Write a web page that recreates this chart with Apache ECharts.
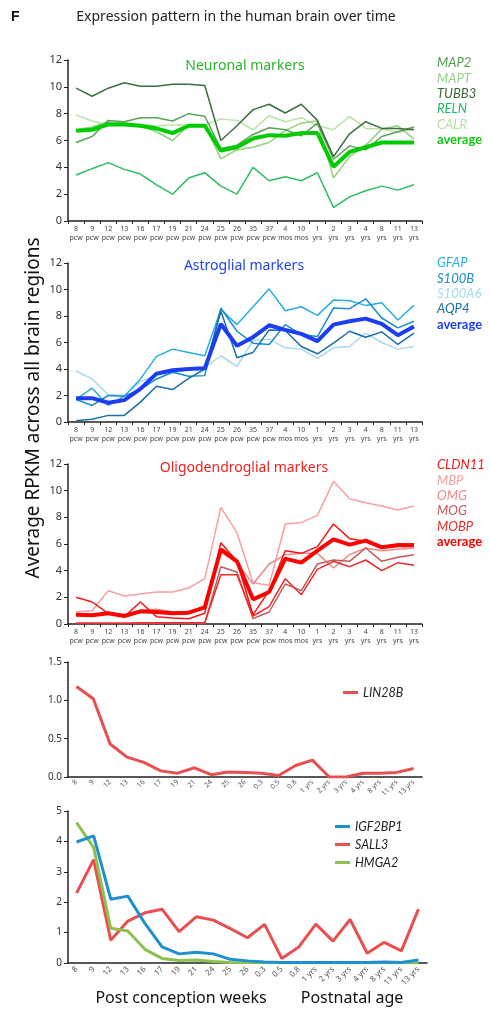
<!DOCTYPE html>
<html><head><meta charset="utf-8">
<script src="https://cdn.jsdelivr.net/npm/echarts@6/dist/echarts.min.js"></script>
<style>html,body{margin:0;padding:0;background:#fff}#c{width:490px;height:1015px}</style>
</head><body><div id="c"></div>
<script>
// ---------- categories ----------
const agesTop = ['8','9','12','13','16','17','19','21','24','25','26','35','37','4','10','1','2','3','4','8','11','13'];
const unitsTop = ['pcw','pcw','pcw','pcw','pcw','pcw','pcw','pcw','pcw','pcw','pcw','pcw','pcw','mos','mos','yrs','yrs','yrs','yrs','yrs','yrs','yrs'];
const agesBottom = ['8','9','12','13','16','17','19','21','24','25','26','0.3','0.5','0.8','1 yrs','2 yrs','3 yrs','4 yrs','8 yrs','11 yrs','13 yrs'];

// ---------- Neuronal markers ----------
const MAP2  = [5.85,6.3,7.5,7.4,7.7,7.7,7.45,8.0,7.8,5.4,5.65,6.45,6.95,6.8,6.35,7.3,4.6,5.6,5.3,6.3,6.65,7.0];
const MAPT  = [6.8,7.0,7.4,7.3,7.1,6.65,6.0,7.15,7.15,4.65,5.3,5.5,5.85,6.75,7.3,7.45,3.2,4.8,5.65,6.85,7.1,6.1];
const TUBB3 = [9.9,9.3,9.9,10.3,10.05,10.05,10.2,10.2,10.1,6.0,7.1,8.3,8.7,8.05,8.7,7.5,4.8,6.5,7.4,6.9,6.9,6.8];
const RELN  = [3.43,3.9,4.35,3.85,3.5,2.7,2.0,3.2,3.6,2.6,2.0,4.0,3.0,3.3,3.0,3.6,1.0,1.8,2.25,2.6,2.3,2.7];
const CALR  = [7.9,7.45,7.15,7.3,7.2,7.1,7.15,7.15,7.15,7.6,7.5,6.8,7.85,7.4,7.7,7.1,6.8,7.8,6.9,6.85,6.6,6.9];
const neuroAvg = [6.73,6.8,7.2,7.2,7.1,6.9,6.55,7.1,7.1,5.25,5.5,6.15,6.4,6.35,6.55,6.55,4.05,5.15,5.5,5.85,5.85,5.85];

// ---------- Astroglial markers ----------
const GFAP   = [1.7,2.55,1.25,1.95,3.25,4.95,5.5,5.25,5.0,8.5,7.35,8.7,10.05,8.4,8.7,8.05,9.2,9.15,8.8,9.0,7.7,8.8];
const S100B  = [1.7,1.25,2.0,1.95,2.45,3.25,3.75,3.45,3.5,8.6,6.85,5.95,5.85,7.35,6.6,6.45,8.6,8.55,9.3,7.85,7.1,7.6];
const S100A6 = [3.85,3.25,2.05,2.0,3.05,3.55,3.7,3.95,4.1,5.0,4.2,6.15,6.25,5.6,5.5,4.8,5.6,5.7,6.7,6.0,5.5,5.7];
const AQP4   = [0.1,0.2,0.5,0.5,1.5,2.7,2.45,3.3,4.0,8.35,4.85,5.25,6.95,6.9,5.7,5.15,5.95,6.85,6.4,6.8,5.85,6.7];
const astroAvg = [1.8,1.8,1.45,1.65,2.5,3.65,3.9,4.0,4.05,7.4,5.75,6.4,7.3,6.95,6.65,6.1,7.35,7.6,7.8,7.4,6.55,7.2];

// ---------- Oligodendroglial markers ----------
const CLDN11 = [2.0,1.65,0.8,0.55,1.65,0.55,0.45,0.4,0.8,6.1,4.7,0.7,2.5,5.5,5.3,5.8,7.5,6.4,6.2,5.8,6.0,6.0];
const MBP    = [0.9,1.0,2.5,2.1,2.25,2.4,2.4,2.7,3.4,8.75,6.85,3.1,2.9,7.5,7.6,8.15,10.7,9.4,9.1,8.85,8.55,8.85];
const OMG    = [0.8,0.6,0.8,0.7,1.0,1.1,0.9,0.9,1.2,5.4,4.6,3.0,4.5,5.2,5.3,5.3,4.2,5.2,5.7,5.5,5.6,5.7];
const MOG    = [0.05,0.05,0.05,0.05,0.05,0.05,0.05,0.05,0.05,4.3,3.9,0.4,0.9,3.0,2.5,4.5,4.8,4.7,5.7,4.7,5.0,5.2];
const MOBP   = [0.05,0.05,0.05,0.05,0.1,0.1,0.1,0.1,0.1,3.7,3.7,0.6,1.3,3.4,2.2,4.1,4.7,4.3,4.8,4.0,4.6,4.4];
const oligoAvg = [0.7,0.65,0.8,0.6,0.95,0.9,0.8,0.85,1.25,5.6,4.7,1.85,2.4,4.9,4.6,5.5,6.35,5.95,6.25,5.75,5.9,5.9];

// ---------- LIN28B ----------
const LIN28B = [1.18,1.02,0.43,0.26,0.19,0.08,0.05,0.12,0.03,0.065,0.06,0.05,0.02,0.15,0.22,0.0,0.0,0.05,0.05,0.06,0.11];

// ---------- IGF2BP1 / SALL3 / HMGA2 ----------
const IGF2BP1 = [3.98,4.18,2.1,2.2,1.3,0.53,0.3,0.35,0.3,0.12,0.07,0.03,0.02,0.02,0.02,0.02,0.02,0.02,0.03,0.02,0.1];
const SALL3   = [2.3,3.4,0.75,1.38,1.65,1.77,1.03,1.52,1.41,1.13,0.83,1.27,0.15,0.53,1.28,0.72,1.43,0.32,0.68,0.4,1.77];
const HMGA2   = [4.62,3.8,1.14,1.05,0.45,0.15,0.08,0.1,0.05,0.02,0.01,0.01,0.01,0.01,0.01,0.01,0.01,0.01,0.01,0.01,0.01];

// ---------- helpers ----------
const FONT = '"Noto Sans", "Open Sans", sans-serif';
const LFONT = 'Lato, "Liberation Sans", sans-serif';
const AX = '#222';
const topCats = agesTop.map((a,i)=>a+'\n'+unitsTop[i]);

function topX(gi){
  return {type:'category', gridIndex:gi, data:topCats, boundaryGap:true,
    axisLine:{lineStyle:{color:AX,width:1.5}},
    axisTick:{show:true,length:3,lineStyle:{color:AX}},
    axisLabel:{fontSize:7,color:'#444',lineHeight:9,margin:3,interval:0,fontFamily:FONT}};
}
function yAx(gi,max,interval,fs,fmt){
  return {type:'value', gridIndex:gi, min:0, max:max, interval:interval,
    axisLine:{show:true,lineStyle:{color:AX,width:1.5}},
    axisTick:{show:true,length:4,lineStyle:{color:AX}},
    splitLine:{show:false},
    axisLabel:{fontSize:fs,color:'#333',margin:6,fontFamily:FONT,formatter:fmt}};
}
function ln(name,data,gi,color,width,z){
  return {type:'line',name:name,data:data,xAxisIndex:gi,yAxisIndex:gi,showSymbol:false,symbol:'none',
    lineStyle:{color:color,width:width},itemStyle:{color:color},z:z||2,animation:false};
}
function textLegend(top,items){
  return {orient:'vertical',left:432,top:top,icon:'none',itemWidth:0,itemHeight:13,itemGap:2.4,
    selectedMode:false,padding:0,
    data:items.map(it=>({name:it[0],textStyle:{color:it[1],fontStyle:it[2]?'normal':'italic',fontWeight:it[2]?'bold':'normal',fontSize:13,lineHeight:13,fontFamily:LFONT}}))};
}

const option = {
  animation:false,
  grid:[
    {left:68,top:60,width:354,height:161},
    {left:68,top:263,width:354,height:159},
    {left:68,top:464,width:354,height:160},
    {left:68,top:662,width:354,height:115},
    {left:68,top:811,width:359,height:152}
  ],
  xAxis:[topX(0),topX(1),topX(2),
    {type:'category',gridIndex:3,data:agesBottom,boundaryGap:true,
      axisLine:{lineStyle:{color:AX,width:1.5}},axisTick:{length:3,lineStyle:{color:AX}},
      axisLabel:{rotate:45,fontSize:7,color:'#555',interval:0,margin:4,fontFamily:FONT}},
    {type:'category',gridIndex:4,data:agesBottom,boundaryGap:true,
      axisLine:{lineStyle:{color:AX,width:1.5}},axisTick:{length:3,lineStyle:{color:AX}},
      axisLabel:{rotate:45,fontSize:8,color:'#555',interval:0,margin:5,fontFamily:FONT}}
  ],
  yAxis:[yAx(0,12,2,11),yAx(1,12,2,11),yAx(2,12,2,11),
    yAx(3,1.5,0.5,10,v=>v.toFixed(1)),yAx(4,5,1,10)],
  legend:[
    textLegend(56.5,[['MAP2','#4e9c4e'],['MAPT','#95d288'],['TUBB3','#3a6a3a'],['RELN','#1fbb63'],['CALR','#b5e0a5'],['average','#14c814',true]]),
    textLegend(256.5,[['GFAP','#29aee0'],['S100B','#1a8cc8'],['S100A6','#a8d8f0'],['AQP4','#1a6fa8'],['average','#1a3ef0',true]]),
    textLegend(458.5,[['CLDN11','#f01818'],['MBP','#f7a0a0'],['OMG','#f08888'],['MOG','#c05a5a'],['MOBP','#ee2a2a'],['average','#ff0000',true]]),
    {orient:'vertical',left:343,top:686,icon:'rect',itemWidth:15,itemHeight:3,itemGap:8,selectedMode:false,padding:0,
      data:[{name:'LIN28B',textStyle:{fontStyle:'italic',fontSize:12.5,color:'#222',fontFamily:LFONT}}]},
    {orient:'vertical',left:335,top:820,icon:'rect',itemWidth:15,itemHeight:3,itemGap:5,selectedMode:false,padding:0,
      data:['IGF2BP1','SALL3','HMGA2'].map(n=>({name:n,textStyle:{fontStyle:'italic',fontSize:12.5,lineHeight:13,color:'#222',fontFamily:LFONT}}))}
  ],
  series:[
    ln('RELN',RELN,0,'#2dbb66',1.5),
    ln('CALR',CALR,0,'#b8e4a8',1.5),
    ln('MAPT',MAPT,0,'#8fd27f',1.5),
    ln('MAP2',MAP2,0,'#5aa55a',1.5),
    ln('TUBB3',TUBB3,0,'#3f6f3f',1.5),
    ln('average',neuroAvg,0,'#00cc00',4,5),

    ln('S100A6',S100A6,1,'#a8d8f0',1.5),
    ln('GFAP',GFAP,1,'#29aee0',1.5),
    ln('S100B',S100B,1,'#1a8cc8',1.5),
    ln('AQP4',AQP4,1,'#1a6fa8',1.5),
    ln('average',astroAvg,1,'#1a3ef0',4,5),

    ln('MBP',MBP,2,'#f7a0a0',1.5),
    ln('OMG',OMG,2,'#f08888',1.5),
    ln('MOG',MOG,2,'#c05a5a',1.5),
    ln('MOBP',MOBP,2,'#ee2a2a',1.5),
    ln('CLDN11',CLDN11,2,'#f01818',1.5),
    ln('average',oligoAvg,2,'#ff0000',4,5),

    ln('LIN28B',LIN28B,3,'#e85050',3),

    ln('SALL3',SALL3,4,'#e85050',3),
    ln('HMGA2',HMGA2,4,'#8cc050',3),
    ln('IGF2BP1',IGF2BP1,4,'#1e90d0',3)
  ],
  graphic:[
    {type:'text',left:11,top:10,style:{text:'F',font:'bold 14px "Liberation Sans", Arial, sans-serif',fill:'#111'}},
    {type:'text',x:236,y:17,style:{text:'Expression pattern in the human brain over time',font:'14px '+FONT,fill:'#222',align:'center',verticalAlign:'middle'}},
    {type:'text',x:245,y:66,style:{text:'Neuronal markers',font:'14px '+FONT,fill:'#2ab52a',align:'center',verticalAlign:'middle'}},
    {type:'text',x:244,y:266,style:{text:'Astroglial markers',font:'14px '+FONT,fill:'#2244ee',align:'center',verticalAlign:'middle'}},
    {type:'text',x:244,y:468,style:{text:'Oligodendroglial markers',font:'14px '+FONT,fill:'#ee2222',align:'center',verticalAlign:'middle'}},
    {type:'text',x:34,y:408,rotation:Math.PI/2,style:{text:'Average RPKM across all brain regions',font:'19px '+FONT,fill:'#111',align:'center',verticalAlign:'middle'}},
    {type:'text',x:181,y:998,style:{text:'Post conception weeks',font:'16px '+FONT,fill:'#111',align:'center',verticalAlign:'middle'}},
    {type:'text',x:352,y:998,style:{text:'Postnatal age',font:'16px '+FONT,fill:'#111',align:'center',verticalAlign:'middle'}}
  ]
};
echarts.init(document.getElementById('c'),null,{renderer:'canvas'}).setOption(option);
</script></body></html>
